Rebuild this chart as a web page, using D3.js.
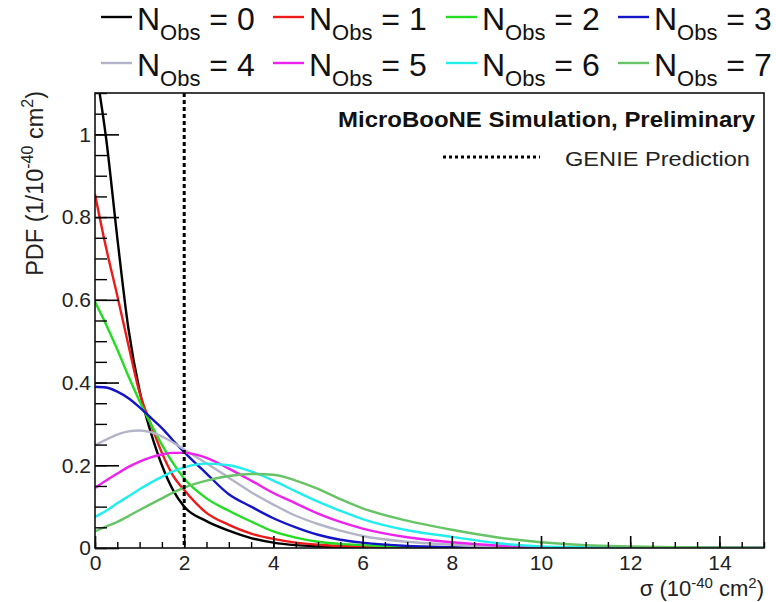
<!DOCTYPE html>
<html>
<head>
<meta charset="utf-8">
<script src="https://cdn.jsdelivr.net/npm/d3@7"></script>
<style>
  html, body { margin: 0; padding: 0; background: #fff; }
  svg { display: block; font-family: "Liberation Sans", Arial, Helvetica, sans-serif; }
</style>
</head>
<body>
<svg id="chart" width="776" height="602"></svg>
<script>
// ---- data ----
const sigma = [0,0.25,0.5,0.75,1,1.25,1.5,1.75,2,2.5,3,3.5,4,4.5,5,5.5,6,7,8,9,10,11,12,13,14,15];
const pdfN0 = [1.17,0.99,0.75,0.53,0.38,0.28,0.2,0.14,0.1,0.065,0.042,0.024,0.013,0.007,0.004,0.002,0.001,0,0,0,0,0,0,0,0,0];
const pdfN1 = [0.855,0.725,0.61,0.49,0.375,0.3,0.23,0.175,0.14,0.085,0.056,0.035,0.022,0.013,0.008,0.005,0.003,0.001,0,0,0,0,0,0,0,0];
const pdfN2 = [0.595,0.54,0.48,0.415,0.355,0.3,0.25,0.205,0.168,0.12,0.09,0.064,0.04,0.025,0.015,0.01,0.007,0.003,0.001,0,0,0,0,0,0,0];
const pdfN3 = [0.39,0.388,0.378,0.362,0.34,0.315,0.29,0.26,0.232,0.18,0.13,0.1,0.072,0.05,0.032,0.02,0.013,0.005,0.002,0,0,0,0,0,0,0];
const pdfN4 = [0.248,0.262,0.274,0.282,0.284,0.28,0.27,0.255,0.238,0.205,0.17,0.135,0.105,0.078,0.058,0.042,0.029,0.015,0.008,0.003,0.001,0,0,0,0,0];
const pdfN5 = [0.145,0.163,0.18,0.196,0.209,0.219,0.226,0.23,0.23,0.218,0.192,0.163,0.133,0.108,0.083,0.063,0.047,0.026,0.014,0.006,0.002,0.001,0,0,0,0];
const pdfN6 = [0.075,0.09,0.108,0.125,0.142,0.158,0.172,0.185,0.195,0.204,0.2,0.185,0.163,0.137,0.112,0.09,0.07,0.043,0.027,0.012,0.004,0.002,0,0,0,0];
const pdfN7 = [0.04,0.052,0.063,0.077,0.092,0.106,0.12,0.134,0.146,0.163,0.174,0.179,0.177,0.163,0.143,0.118,0.096,0.066,0.044,0.026,0.014,0.007,0.004,0.002,0.001,0];
const nObs = [0,1,2,3,4,5,6,7];
const seriesColors = ["#000000","#ee1a1a","#22dd22","#1414c8","#b4b4c8","#ee22ee","#22eeee","#66c466"];
const genieSigma = 2.0;
const xTickValues = [0,2,4,6,8,10,12,14];
const yTickValues = [0,0.2,0.4,0.6,0.8,1];
const yTickLabels = ["0","0.2","0.4","0.6","0.8","1"];
const titleText = "MicroBooNE Simulation, Preliminary";
const genieLabel = "GENIE Prediction";

const allSeries = [pdfN0,pdfN1,pdfN2,pdfN3,pdfN4,pdfN5,pdfN6,pdfN7];

// ---- layout ----
const L = 95, R = 764, T = 93, B = 548;
const svg = d3.select("#chart");
const x = d3.scaleLinear().domain([0, 15]).range([L, R]);
const y = d3.scaleLinear().domain([0, 1.1]).range([B, T]);

svg.append("defs").append("clipPath").attr("id","plotclip")
  .append("rect").attr("x", L).attr("y", T).attr("width", R - L).attr("height", B - T);

// curves
const line = d3.line().x(d => x(d[0])).y(d => y(d[1])).curve(d3.curveMonotoneX);
const gCurves = svg.append("g").attr("clip-path","url(#plotclip)");
allSeries.forEach((vals, i) => {
  gCurves.append("path")
    .attr("d", line(sigma.map((s, k) => [s, vals[k]])))
    .attr("fill","none")
    .attr("stroke", seriesColors[i])
    .attr("stroke-width", 2.4)
    .attr("stroke-linejoin","round");
});

// GENIE prediction dotted line
svg.append("line")
  .attr("x1", x(genieSigma)).attr("x2", x(genieSigma))
  .attr("y1", y(1.1)).attr("y2", y(0))
  .attr("stroke","#000").attr("stroke-width",3).attr("stroke-dasharray","4,3");

// axes
const fontTick = 21;
const xMinor = d3.range(0, 15.01, 0.5);
const yMinor = d3.range(0, 1.101, 0.05);

const gx = svg.append("g").attr("transform", `translate(0,${B})`)
  .call(d3.axisBottom(x).tickValues(xTickValues).tickSize(-12).tickPadding(7).tickFormat(d3.format("d")));
gx.select(".domain").remove();
gx.selectAll("text").attr("font-size", fontTick).attr("font-family","Liberation Sans, Arial, sans-serif").attr("fill","#222");
gx.selectAll("line").attr("stroke","#000").attr("stroke-width",1.6);

const gxm = svg.append("g").attr("transform", `translate(0,${B})`)
  .call(d3.axisBottom(x).tickValues(xMinor).tickSize(-6).tickFormat(""));
gxm.select(".domain").remove();
gxm.selectAll("line").attr("stroke","#000").attr("stroke-width",1.4);

const gy = svg.append("g").attr("transform", `translate(${L},0)`)
  .call(d3.axisLeft(y).tickValues(yTickValues).tickSize(-24).tickPadding(4)
        .tickFormat((d, i) => yTickLabels[i]));
gy.select(".domain").remove();
gy.selectAll("text").attr("font-size", fontTick).attr("font-family","Liberation Sans, Arial, sans-serif").attr("fill","#222");
gy.selectAll("line").attr("stroke","#000").attr("stroke-width",1.6);

const gym = svg.append("g").attr("transform", `translate(${L},0)`)
  .call(d3.axisLeft(y).tickValues(yMinor).tickSize(-12).tickFormat(""));
gym.select(".domain").remove();
gym.selectAll("line").attr("stroke","#000").attr("stroke-width",1.4);

// frame
svg.append("rect").attr("x", L).attr("y", T).attr("width", R - L).attr("height", B - T)
  .attr("fill","none").attr("stroke","#111").attr("stroke-width",1.6);

// axis titles
const xt = svg.append("text").attr("x", 764).attr("y", 596).attr("text-anchor","end")
  .attr("font-size", 22).attr("fill","#222");
xt.append("tspan").text("σ (10");
xt.append("tspan").attr("dy", -8).attr("font-size", 15).text("-40");
xt.append("tspan").attr("dy", 8).text(" cm");
xt.append("tspan").attr("dy", -8).attr("font-size", 15).text("2");
xt.append("tspan").attr("dy", 8).text(")");

const yt = svg.append("text").attr("transform","translate(43,91) rotate(-90)").attr("text-anchor","end")
  .attr("font-size", 23.5).attr("fill","#222");
yt.append("tspan").text("PDF (1/10");
yt.append("tspan").attr("dy", -10).attr("font-size", 16).text("-40");
yt.append("tspan").attr("dy", 10).text(" cm");
yt.append("tspan").attr("dy", -10).attr("font-size", 16).text("2");
yt.append("tspan").attr("dy", 10).text(")");

// text box
svg.append("text").attr("x", 755).attr("y", 127).attr("text-anchor","end")
  .attr("font-size", 22).attr("font-weight","bold").attr("fill","#111")
  .attr("textLength", 417).attr("lengthAdjust","spacingAndGlyphs").text(titleText);
svg.append("line").attr("x1", 443).attr("x2", 540).attr("y1", 157).attr("y2", 157)
  .attr("stroke","#000").attr("stroke-width",3).attr("stroke-dasharray","3,3");
svg.append("text").attr("x", 750).attr("y", 166).attr("text-anchor","end")
  .attr("font-size", 21).attr("fill","#222")
  .attr("textLength", 185).attr("lengthAdjust","spacingAndGlyphs").text(genieLabel);

// top legend
const legX = [101, 273, 446, 618];
const legY = [30, 76];
nObs.forEach((n, i) => {
  const col = i % 4, row = Math.floor(i / 4);
  const lx = legX[col], by = legY[row];
  svg.append("line").attr("x1", lx).attr("x2", lx + 31).attr("y1", by - 13).attr("y2", by - 13)
    .attr("stroke", seriesColors[i]).attr("stroke-width", 2.4);
  const t = svg.append("text").attr("x", lx + 36).attr("y", by).attr("font-size", 32).attr("fill","#111");
  t.append("tspan").text("N");
  t.append("tspan").attr("dy", 10).attr("font-size", 22).text("Obs");
  t.append("tspan").attr("dy", -10).text(" = " + n);
});
</script>
</body>
</html>
